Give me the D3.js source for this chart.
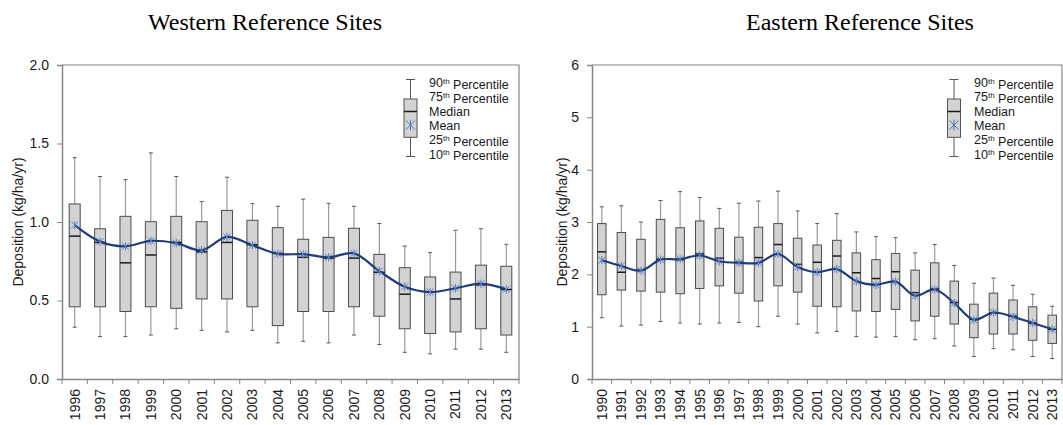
<!DOCTYPE html>
<html><head><meta charset="utf-8">
<script src="https://cdn.jsdelivr.net/npm/d3@7"></script>
<style>body{margin:0;background:#fff}svg{display:block}</style>
</head><body>
<svg id="chart" width="1063" height="425"></svg>
<script>
// Western reference sites, annual deposition percentiles (kg/ha/yr)
const westYears = ["1996","1997","1998","1999","2000","2001","2002","2003","2004","2005","2006","2007","2008","2009","2010","2011","2012","2013"];
const westP10  = [0.33,0.27,0.27,0.28,0.32,0.31,0.30,0.31,0.23,0.24,0.23,0.28,0.22,0.17,0.16,0.19,0.19,0.17];
const westQ1   = [0.46,0.46,0.43,0.46,0.45,0.51,0.51,0.46,0.34,0.43,0.43,0.46,0.40,0.32,0.29,0.30,0.32,0.28];
const westMed  = [0.91,0.87,0.74,0.79,0.87,0.81,0.87,0.855,0.80,0.775,0.77,0.77,0.68,0.54,0.555,0.51,0.60,0.57];
const westMean = [0.98,0.875,0.845,0.88,0.865,0.82,0.905,0.852,0.797,0.795,0.775,0.80,0.687,0.588,0.554,0.578,0.607,0.571];
const westQ3   = [1.115,0.957,1.036,1.002,1.036,1.002,1.074,1.011,0.964,0.890,0.902,0.960,0.794,0.709,0.650,0.681,0.725,0.718];
const westP90  = [1.41,1.29,1.27,1.44,1.29,1.13,1.285,1.117,1.10,1.146,1.119,1.10,0.99,0.847,0.805,0.947,0.957,0.858];
const westTicks = [0, 0.5, 1.0, 1.5, 2.0];

// Eastern reference sites
const eastYears = ["1990","1991","1992","1993","1994","1995","1996","1997","1998","1999","2000","2001","2002","2003","2004","2005","2006","2007","2008","2009","2010","2011","2012","2013"];
const eastP10  = [1.17,1.01,1.03,1.10,1.07,1.05,1.07,1.08,1.00,1.20,1.05,0.88,0.91,0.81,0.80,0.81,0.75,0.77,0.63,0.43,0.58,0.56,0.43,0.39];
const eastQ1   = [1.61,1.70,1.68,1.66,1.63,1.73,1.78,1.64,1.49,1.78,1.66,1.39,1.38,1.30,1.29,1.33,1.11,1.20,1.05,0.79,0.86,0.86,0.74,0.68];
const eastMed  = [2.43,2.04,2.08,2.29,2.28,2.39,2.31,2.23,2.32,2.57,2.19,2.23,2.35,2.03,1.92,2.05,1.65,1.72,1.46,1.14,1.26,1.20,1.07,0.95];
const eastMean = [2.27,2.16,2.07,2.28,2.29,2.36,2.25,2.22,2.22,2.39,2.14,2.04,2.10,1.87,1.80,1.86,1.59,1.71,1.45,1.13,1.27,1.19,1.07,0.95];
const eastQ3   = [2.97,2.80,2.67,3.05,2.89,3.02,2.88,2.71,2.90,2.97,2.69,2.56,2.65,2.41,2.28,2.40,2.08,2.22,1.87,1.43,1.64,1.51,1.38,1.22];
const eastP90  = [3.29,3.31,3.00,3.41,3.58,3.47,3.26,3.36,3.40,3.59,3.21,2.97,3.16,2.81,2.72,2.70,2.41,2.57,2.17,1.83,1.93,1.79,1.62,1.39];
const eastTicks = [0, 1, 2, 3, 4, 5, 6];

// Legend rows: number, superscript, remainder
const legendRows = [
  ["90", "th", " Percentile"],
  ["75", "th", " Percentile"],
  ["Median", "", ""],
  ["Mean", "", ""],
  ["25", "th", " Percentile"],
  ["10", "th", " Percentile"]
];

const yTitle = "Deposition (kg/ha/yr)";

const panels = [
  { title: "Western Reference Sites", titleX: 265, years: westYears,
    p10: westP10, q1: westQ1, med: westMed, mean: westMean, q3: westQ3, p90: westP90,
    domain: [0, 2], ticks: westTicks, fmt: d3.format(".1f"),
    x0: 62, x1: 519, boxW: 11, yTitleX: 18.5, legX: 410.5, legTextX: 429 },
  { title: "Eastern Reference Sites", titleX: 860, years: eastYears,
    p10: eastP10, q1: eastQ1, med: eastMed, mean: eastMean, q3: eastQ3, p90: eastP90,
    domain: [0, 6], ticks: eastTicks, fmt: d3.format("d"),
    x0: 592, x1: 1062, boxW: 8.5, yTitleX: 562, legX: 954, legTextX: 974 }
];

const plotTop = 65, plotBottom = 379;
const axisColor = "#868686";
const svg = d3.select("#chart");
svg.append("rect").attr("width", 1063).attr("height", 425).attr("fill", "#fff");

function asterisk(cx, cy, r) {
  const v = r * 1.2;
  return `M${cx - r},${cy - r}L${cx + r},${cy + r}M${cx - r},${cy + r}L${cx + r},${cy - r}M${cx},${cy - v}L${cx},${cy + v}`;
}

panels.forEach(p => {
  const g = svg.append("g");
  const x = d3.scaleBand().domain(p.years).range([p.x0, p.x1]);
  const y = d3.scaleLinear().domain(p.domain).range([plotBottom, plotTop]);
  const rows = p.years.map((yr, i) => ({
    yr, p10: p.p10[i], q1: p.q1[i], med: p.med[i], mean: p.mean[i], q3: p.q3[i], p90: p.p90[i],
    cx: x(yr) + x.bandwidth() / 2
  }));

  // title
  svg.append("text").attr("x", p.titleX).attr("y", 30)
    .attr("text-anchor", "middle")
    .style("font-family", "'Liberation Serif','Times New Roman',serif")
    .style("font-size", "24px").style("fill", "#000")
    .text(p.title);

  // frame (top and right)
  g.append("path")
    .attr("d", `M${p.x0},${plotTop}H${p.x1}V${plotBottom}`)
    .attr("fill", "none").attr("stroke", axisColor).attr("stroke-width", 1.2);

  // y axis
  const ya = g.append("g").attr("transform", `translate(${p.x0},0)`)
    .call(d3.axisLeft(y).tickValues(p.ticks).tickFormat(p.fmt).tickSize(5).tickPadding(8));
  ya.select(".domain").attr("stroke", axisColor).attr("stroke-width", 1.5);
  ya.selectAll(".tick line").attr("stroke", axisColor);
  ya.selectAll("text").style("font-family", "Arial,'Liberation Sans',sans-serif")
    .style("font-size", "14px").style("fill", "#1a1a1a");

  // x axis: labels at category centres, ticks at category boundaries
  const xa = g.append("g").attr("transform", `translate(0,${plotBottom})`)
    .call(d3.axisBottom(x).tickSize(0));
  xa.select(".domain").attr("stroke", axisColor).attr("stroke-width", 1.5);
  xa.selectAll("text")
    .attr("y", 0).attr("x", -10).attr("dy", "0.35em")
    .attr("transform", "rotate(-90)")
    .style("text-anchor", "end")
    .style("font-family", "Arial,'Liberation Sans',sans-serif")
    .style("font-size", "14px").style("fill", "#1a1a1a");
  g.append("g").selectAll("line")
    .data(p.years.map(yr => x(yr)).concat([p.x1]))
    .join("line")
    .attr("x1", d => d).attr("x2", d => d)
    .attr("y1", plotBottom).attr("y2", plotBottom + 5)
    .attr("stroke", axisColor);

  // y axis title
  g.append("text")
    .attr("transform", `translate(${p.yTitleX},${(plotTop + plotBottom) / 2}) rotate(-90)`)
    .attr("text-anchor", "middle").attr("dy", "0.35em")
    .style("font-family", "Arial,'Liberation Sans',sans-serif")
    .style("font-size", "14px").style("fill", "#1a1a1a")
    .text(yTitle);

  // whiskers
  const w = g.append("g");
  w.selectAll("line.up").data(rows).join("line").attr("class", "up")
    .attr("x1", d => d.cx).attr("x2", d => d.cx)
    .attr("y1", d => y(d.q3)).attr("y2", d => y(d.p90))
    .attr("stroke", "#9a9a9a").attr("stroke-width", 1.2);
  w.selectAll("line.dn").data(rows).join("line").attr("class", "dn")
    .attr("x1", d => d.cx).attr("x2", d => d.cx)
    .attr("y1", d => y(d.q1)).attr("y2", d => y(d.p10))
    .attr("stroke", "#9a9a9a").attr("stroke-width", 1.2);
  w.selectAll("line.capu").data(rows).join("line").attr("class", "capu")
    .attr("x1", d => d.cx - 2).attr("x2", d => d.cx + 2)
    .attr("y1", d => y(d.p90)).attr("y2", d => y(d.p90))
    .attr("stroke", "#555").attr("stroke-width", 1);
  w.selectAll("line.capd").data(rows).join("line").attr("class", "capd")
    .attr("x1", d => d.cx - 2).attr("x2", d => d.cx + 2)
    .attr("y1", d => y(d.p10)).attr("y2", d => y(d.p10))
    .attr("stroke", "#555").attr("stroke-width", 1);

  // boxes
  g.append("g").selectAll("rect").data(rows).join("rect")
    .attr("x", d => d.cx - p.boxW / 2).attr("width", p.boxW)
    .attr("y", d => y(d.q3)).attr("height", d => y(d.q1) - y(d.q3))
    .attr("fill", "#d3d3d3").attr("stroke", "#4d4d4d").attr("stroke-width", 1);

  // medians
  g.append("g").selectAll("line").data(rows).join("line")
    .attr("x1", d => d.cx - p.boxW / 2).attr("x2", d => d.cx + p.boxW / 2)
    .attr("y1", d => y(d.med)).attr("y2", d => y(d.med))
    .attr("stroke", "#1a1a1a").attr("stroke-width", 1.5);

  // mean line
  g.append("path").datum(rows)
    .attr("d", d3.line().x(d => d.cx).y(d => y(d.mean)).curve(d3.curveCatmullRom.alpha(0.5)))
    .attr("fill", "none").attr("stroke", "#1f3d7a").attr("stroke-width", 2.2);

  // mean markers
  g.append("g").selectAll("path").data(rows).join("path")
    .attr("d", d => asterisk(d.cx, y(d.mean), 3.5))
    .attr("fill", "none").attr("stroke", "#5b80c2").attr("stroke-width", 1);

  // legend glyph
  const lg = g.append("g");
  const lx = p.legX;
  lg.append("line").attr("x1", lx).attr("x2", lx).attr("y1", 79.5).attr("y2", 156.5)
    .attr("stroke", "#555").attr("stroke-width", 1);
  [79.5, 156.5].forEach(yy => lg.append("line")
    .attr("x1", lx - 4.5).attr("x2", lx + 4.5).attr("y1", yy).attr("y2", yy)
    .attr("stroke", "#555").attr("stroke-width", 1));
  lg.append("rect").attr("x", lx - 6.5).attr("y", 99).attr("width", 13).attr("height", 38.3)
    .attr("fill", "#d3d3d3").attr("stroke", "#555").attr("stroke-width", 1);
  lg.append("line").attr("x1", lx - 6.5).attr("x2", lx + 6.5).attr("y1", 111.5).attr("y2", 111.5)
    .attr("stroke", "#1a1a1a").attr("stroke-width", 1.5);
  lg.append("path").attr("d", asterisk(lx, 125, 4.5))
    .attr("fill", "none").attr("stroke", "#4f74b5").attr("stroke-width", 1);

  const lt = lg.append("g").selectAll("text").data(legendRows).join("text")
    .attr("x", p.legTextX).attr("y", (d, i) => 82.5 + i * 14.35).attr("dy", "0.35em")
    .style("font-family", "Arial,'Liberation Sans',sans-serif")
    .style("font-size", "12.5px").style("fill", "#1a1a1a");
  lt.append("tspan").text(d => d[0]);
  lt.filter(d => d[1]).append("tspan").attr("dy", "-0.4em").style("font-size", "8px").text(d => d[1]);
  lt.filter(d => d[2]).append("tspan").attr("dy", "0.4em").text(d => d[2]);
});
</script>
</body></html>
